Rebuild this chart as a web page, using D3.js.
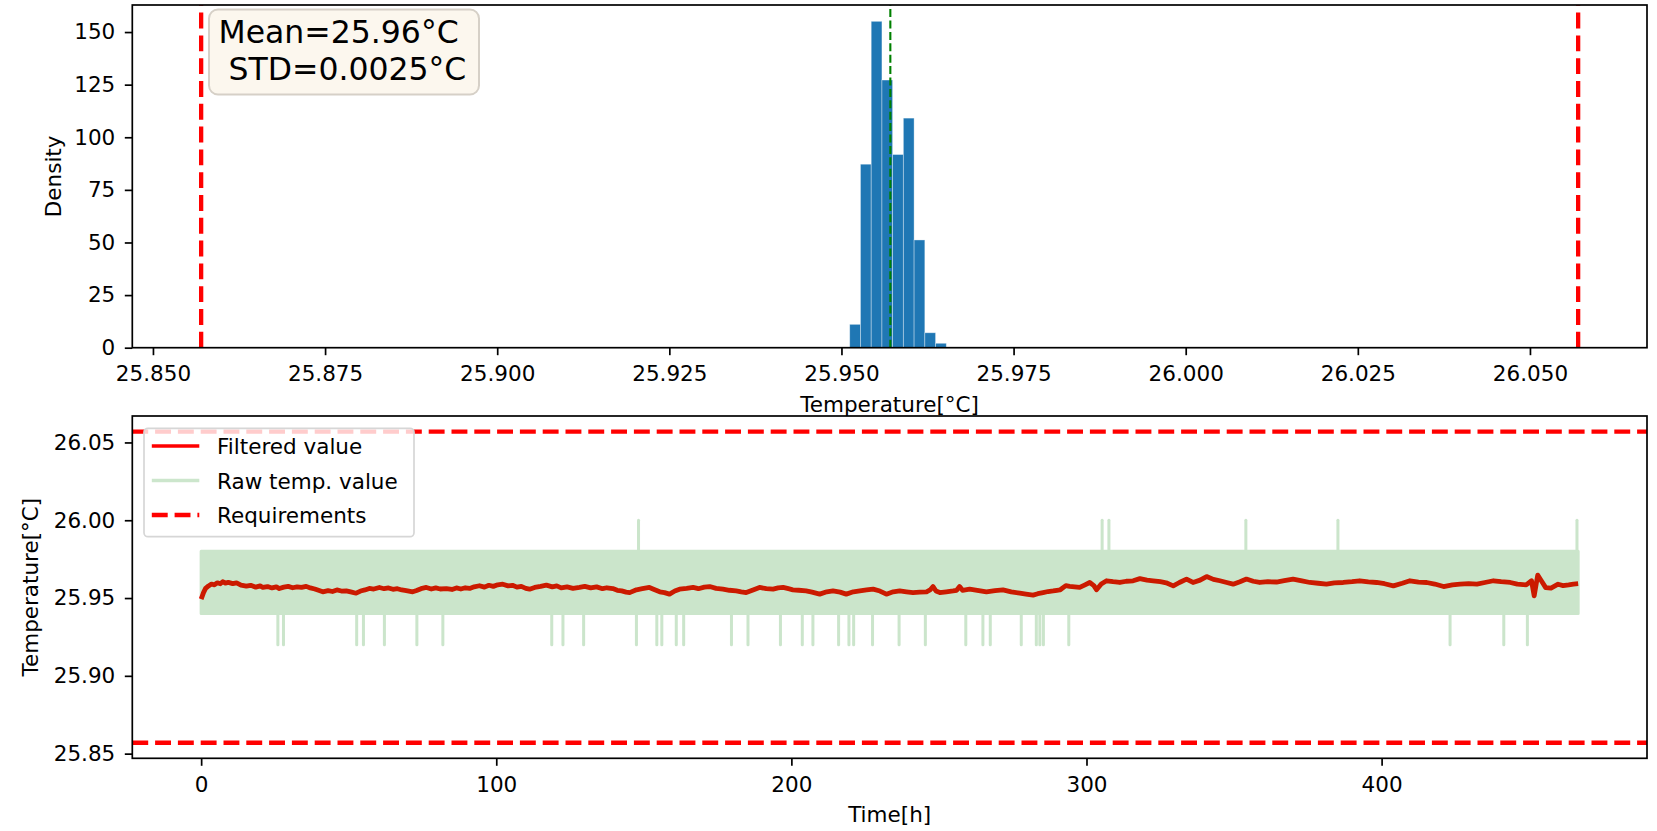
<!DOCTYPE html>
<html>
<head>
<meta charset="utf-8">
<script src="https://cdn.jsdelivr.net/npm/d3@7"></script>
<style>
  html, body { margin: 0; padding: 0; background: #fff; }
  svg { display: block; font-family: "DejaVu Sans", sans-serif; }
</style>
</head>
<body>
<div id="chart"></div>
<script>
// ---- data ----
const histBinEdges = [25.9512, 25.95276, 25.95432, 25.95588, 25.95743, 25.95899, 25.96055, 25.96211, 25.96367, 25.96523];
const histDensity = [11.1, 87.2, 155.1, 127.2, 91.8, 109.1, 51.2, 7.1, 2.1];
const meanTemp = 25.9571;
const statLines = ["Mean=25.96°C", "\u00a0STD=0.0025°C"];
const reqLimits = [25.857, 26.057];

const histTicks = [25.850, 25.875, 25.900, 25.925, 25.950, 25.975, 26.000, 26.025, 26.050];
const densityTicks = [0, 25, 50, 75, 100, 125, 150];
const timeTicks = [0, 100, 200, 300, 400];
const tempTicks = [25.85, 25.90, 25.95, 26.00, 26.05];

const filteredTime = [
  0, 0.8, 1.5, 2.5, 3.5, 4.5, 5.5, 6.5, 7.3, 8.2, 9.2, 10.7, 12.0, 13.5, 15.3, 16.8, 18.5, 20.0, 20.9, 22.5,
  24.0, 25.5, 26.5, 28.0, 29.5, 31.0, 32.5, 34.0, 35.6, 37.0, 38.5, 40.0, 41.2, 43.0, 44.5, 46.0, 47.5, 49.2, 51.0, 52.5,
  54.0, 55.5, 57.0, 58.5, 60.4, 62.0, 63.5, 65.0, 66.5, 68.0, 69.5, 71.7, 73.0, 74.5, 76.3, 78.0, 79.5, 81.0, 83.1, 85.0,
  86.5, 88.0, 89.5, 91.0, 92.5, 94.3, 96.0, 97.5, 99.0, 100.5, 102.2, 104.0, 105.5, 107.0, 108.5, 110.0, 111.3, 113.0, 115.0, 117.0,
  119.0, 120.5, 122.0, 124.0, 126.0, 128.2, 130.0, 132.0, 134.0, 136.0, 137.5, 139.5, 141.0, 142.5, 144.0, 145.2, 147.5, 149.5, 151.9, 153.5,
  155.4, 157.0, 158.7, 160.5, 162.1, 164.5, 166.7, 168.5, 170.5, 172.3, 174.5, 176.8, 179.0, 181.3, 183.0, 184.7, 187.0, 189.2, 191.5, 193.8,
  195.5, 197.2, 199.0, 200.5, 202.5, 205.0, 207.0, 209.6, 212.0, 214.1, 216.5, 218.6, 221.0, 223.2, 225.5, 227.7, 230.0, 232.2, 234.5, 236.7,
  239.0, 241.2, 243.5, 245.8, 247.0, 248.0, 249.0, 250.3, 252.5, 254.8, 256.0, 257.0, 258.0, 260.4, 263.0, 266.1, 269.0, 271.7, 274.5, 277.4,
  279.5, 281.9, 283.5, 285.3, 287.0, 288.7, 290.0, 291.0, 293.0, 294.3, 297.7, 299.5, 301.1, 302.5, 303.4, 305.0, 306.8, 309.0, 311.3, 313.5,
  315.8, 318.1, 320.5, 322.6, 325.0, 327.0, 329.4, 331.5, 333.9, 336.1, 338.5, 340.7, 343.0, 345.2, 347.5, 349.7, 352.0, 354.2, 356.5, 358.7,
  361.5, 364.4, 367.0, 370.0, 373.0, 375.7, 378.5, 381.3, 384.0, 387.0, 390.0, 392.6, 395.5, 398.3, 401.0, 404.0, 407.0, 409.6, 412.5, 415.3,
  418.0, 421.0, 424.0, 426.6, 429.5, 432.3, 435.0, 437.9, 440.5, 443.6, 446.0, 449.0, 450.8, 451.7, 452.9, 453.8, 455.6, 457.4, 459.8, 461.5,
  463.4, 465.0, 466.6
];
const filteredTemp = [
  25.9493, 25.9535, 25.9562, 25.9578, 25.9590, 25.9585, 25.9598, 25.9592, 25.9605, 25.9596, 25.9601, 25.9593, 25.9598, 25.9583, 25.9576, 25.9582, 25.9570, 25.9578, 25.9568, 25.9574,
  25.9565, 25.9572, 25.9561, 25.9570, 25.9575, 25.9566, 25.9572, 25.9568, 25.9575, 25.9565, 25.9558, 25.9548, 25.9540, 25.9548, 25.9542, 25.9552, 25.9545, 25.9546, 25.9538, 25.9531,
  25.9545, 25.9552, 25.9562, 25.9558, 25.9568, 25.9560, 25.9565, 25.9556, 25.9560, 25.9552, 25.9548, 25.9540, 25.9548, 25.9560, 25.9568, 25.9558, 25.9565, 25.9558, 25.9561, 25.9555,
  25.9565, 25.9558, 25.9566, 25.9562, 25.9572, 25.9579, 25.9570, 25.9582, 25.9575, 25.9585, 25.9589, 25.9578, 25.9582, 25.9570, 25.9575, 25.9562, 25.9557, 25.9568, 25.9575, 25.9583,
  25.9572, 25.9578, 25.9565, 25.9572, 25.9562, 25.9568, 25.9575, 25.9565, 25.9572, 25.9560, 25.9566, 25.9561, 25.9550, 25.9546, 25.9538, 25.9535, 25.9553, 25.9560, 25.9568, 25.9555,
  25.9540, 25.9535, 25.9525, 25.9545, 25.9557, 25.9562, 25.9568, 25.9560, 25.9570, 25.9574, 25.9562, 25.9557, 25.9550, 25.9546, 25.9540, 25.9535, 25.9552, 25.9568, 25.9560, 25.9557,
  25.9565, 25.9568, 25.9560, 25.9553, 25.9550, 25.9546, 25.9538, 25.9525, 25.9540, 25.9546, 25.9538, 25.9525, 25.9540, 25.9546, 25.9552, 25.9557, 25.9545, 25.9525, 25.9540, 25.9546,
  25.9540, 25.9535, 25.9538, 25.9540, 25.9552, 25.9574, 25.9545, 25.9535, 25.9540, 25.9546, 25.9550, 25.9574, 25.9550, 25.9557, 25.9550, 25.9540, 25.9548, 25.9553, 25.9540, 25.9531,
  25.9525, 25.9519, 25.9528, 25.9535, 25.9542, 25.9546, 25.9550, 25.9552, 25.9580, 25.9575, 25.9568, 25.9585, 25.9600, 25.9580, 25.9553, 25.9590, 25.9611, 25.9605, 25.9600, 25.9608,
  25.9611, 25.9625, 25.9615, 25.9611, 25.9605, 25.9598, 25.9578, 25.9600, 25.9622, 25.9600, 25.9615, 25.9638, 25.9620, 25.9611, 25.9600, 25.9589, 25.9605, 25.9622, 25.9608, 25.9600,
  25.9605, 25.9603, 25.9612, 25.9622, 25.9610, 25.9600, 25.9595, 25.9589, 25.9598, 25.9600, 25.9605, 25.9611, 25.9604, 25.9600, 25.9592, 25.9578, 25.9595, 25.9611, 25.9602, 25.9600,
  25.9590, 25.9574, 25.9585, 25.9589, 25.9592, 25.9589, 25.9600, 25.9611, 25.9605, 25.9600, 25.9589, 25.9585, 25.9611, 25.9514, 25.9647, 25.9621, 25.9567, 25.9564, 25.9589, 25.9580,
  25.9585, 25.9590, 25.9593
];

// raw sensor value: toggles between two quantised levels, with rare single-step excursions
const rawLevels = [25.94, 25.98];
const rawSpan = [0, 466.6];
const rawSpikeUpLevel = 26.00;
const rawSpikeUp = [148.2, 305.3, 307.6, 354.0, 385.2, 466.2];
const rawSpikeDownLevel = 25.92;
const rawSpikeDown = [26.0, 27.9, 52.7, 55.0, 62.1, 73.1, 81.9, 118.8, 122.6, 129.6, 147.5, 154.4, 156.1, 161.0, 163.5,
  179.7, 185.3, 196.3, 203.7, 207.3, 216.0, 219.5, 221.1, 227.5, 236.5, 245.4, 259.1, 264.9, 267.4, 277.9,
  283.0, 284.2, 285.4, 294.0, 423.2, 441.4, 449.4];

const legendLabels = ["Filtered value", "Raw temp. value", "Requirements"];

// ---- layout ----
const width = 1657, height = 831;
const fontSize = 21.5;
const pTop = {left: 132.3, right: 1647, top: 5, bottom: 347.7};
const pBot = {left: 132.3, right: 1647, top: 416, bottom: 758.3};

const svg = d3.select("#chart").append("svg")
  .attr("width", width).attr("height", height);

const tempDomain = [reqLimits[0] - 0.05 * (reqLimits[1] - reqLimits[0]), reqLimits[1] + 0.05 * (reqLimits[1] - reqLimits[0])];

const styleAxis = g => {
  g.select(".domain").remove();
  g.attr("font-family", "DejaVu Sans").attr("font-size", fontSize);
  g.selectAll(".tick line").attr("stroke", "#000").attr("stroke-width", 1.7);
  g.selectAll(".tick text").attr("fill", "#000");
};

const reqDash = "15.9,6.9";

// ===== TOP: histogram =====
const xHist = d3.scaleLinear().domain(tempDomain).range([pTop.left, pTop.right]);
const yHist = d3.scaleLinear().domain([0, d3.max(histDensity) * 1.05]).range([pTop.bottom, pTop.top]);

const gTop = svg.append("g");
gTop.selectAll("rect.bar").data(histDensity).join("rect")
  .attr("class", "bar")
  .attr("x", (d, i) => xHist(histBinEdges[i]))
  .attr("width", (d, i) => xHist(histBinEdges[i + 1]) - xHist(histBinEdges[i]))
  .attr("y", d => yHist(d))
  .attr("height", d => yHist(0) - yHist(d))
  .attr("fill", "#1f77b4")
  .attr("stroke", "#ffffff").attr("stroke-opacity", 0.45).attr("stroke-width", 0.8);

gTop.selectAll("line.req").data(reqLimits).join("line")
  .attr("class", "req")
  .attr("x1", d => xHist(d)).attr("x2", d => xHist(d))
  .attr("y1", pTop.bottom).attr("y2", pTop.top)
  .attr("stroke", "#ff0000").attr("stroke-width", 4.3).attr("stroke-dasharray", reqDash);

gTop.append("line")
  .attr("x1", xHist(meanTemp)).attr("x2", xHist(meanTemp))
  .attr("y1", pTop.bottom).attr("y2", pTop.top)
  .attr("stroke", "#008000").attr("stroke-width", 2.1).attr("stroke-dasharray", "8,3.4");

gTop.append("g").attr("transform", `translate(0,${pTop.bottom})`)
  .call(d3.axisBottom(xHist).tickValues(histTicks).tickFormat(d3.format(".3f")).tickSize(7.5).tickPadding(11))
  .call(styleAxis);
gTop.append("g").attr("transform", `translate(${pTop.left},0)`)
  .call(d3.axisLeft(yHist).tickValues(densityTicks).tickFormat(d3.format("d")).tickSize(7.5).tickPadding(9.5))
  .call(styleAxis);

gTop.append("rect")
  .attr("x", pTop.left).attr("y", pTop.top)
  .attr("width", pTop.right - pTop.left).attr("height", pTop.bottom - pTop.top)
  .attr("fill", "none").attr("stroke", "#000").attr("stroke-width", 1.7);

// stats box
gTop.append("rect")
  .attr("x", 209).attr("y", 9.5).attr("width", 270).attr("height", 85).attr("rx", 9)
  .attr("fill", "#fcf7ee").attr("stroke", "#d6d0c7").attr("stroke-width", 2);
gTop.selectAll("text.stat").data(statLines).join("text")
  .attr("class", "stat")
  .attr("x", 218.5).attr("y", (d, i) => 43 + i * 36.5)
  .attr("font-size", 31.5).attr("fill", "#000")
  .text(d => d);

gTop.append("text")
  .attr("transform", `translate(61.4,${(pTop.top + pTop.bottom) / 2}) rotate(-90)`)
  .attr("text-anchor", "middle").attr("font-size", fontSize).attr("fill", "#000")
  .text("Density");
gTop.append("text")
  .attr("x", (pTop.left + pTop.right) / 2).attr("y", 412)
  .attr("text-anchor", "middle").attr("font-size", fontSize).attr("fill", "#000")
  .text("Temperature[°C]");

// ===== BOTTOM: time series =====
const tPad = 0.05 * (rawSpan[1] - rawSpan[0]);
const xTime = d3.scaleLinear().domain([rawSpan[0] - tPad, rawSpan[1] + tPad]).range([pBot.left, pBot.right]);
const yTemp = d3.scaleLinear().domain(tempDomain).range([pBot.bottom, pBot.top]);

const gBot = svg.append("g");

const line = d3.line()
  .x(i => xTime(filteredTime[i]))
  .y(i => yTemp(filteredTemp[i]));
gBot.append("path")
  .attr("d", line(d3.range(filteredTime.length)))
  .attr("fill", "none").attr("stroke", "#ff0000").attr("stroke-width", 4.8)
  .attr("stroke-linejoin", "round");

const gRaw = gBot.append("g").attr("opacity", 0.2);
gRaw.append("rect")
  .attr("x", xTime(rawSpan[0])).attr("width", xTime(rawSpan[1]) - xTime(rawSpan[0]))
  .attr("y", yTemp(rawLevels[1])).attr("height", yTemp(rawLevels[0]) - yTemp(rawLevels[1]))
  .attr("fill", "#008000").attr("stroke", "#008000").attr("stroke-width", 3).attr("stroke-linejoin", "round");
gRaw.selectAll("line.up").data(rawSpikeUp).join("line")
  .attr("class", "up")
  .attr("x1", d => xTime(d)).attr("x2", d => xTime(d))
  .attr("y1", yTemp(rawLevels[1])).attr("y2", yTemp(rawSpikeUpLevel))
  .attr("stroke", "#008000").attr("stroke-width", 3).attr("stroke-linecap", "round");
gRaw.selectAll("line.down").data(rawSpikeDown).join("line")
  .attr("class", "down")
  .attr("x1", d => xTime(d)).attr("x2", d => xTime(d))
  .attr("y1", yTemp(rawLevels[0])).attr("y2", yTemp(rawSpikeDownLevel))
  .attr("stroke", "#008000").attr("stroke-width", 3).attr("stroke-linecap", "round");

gBot.selectAll("line.req").data(reqLimits).join("line")
  .attr("class", "req")
  .attr("x1", pBot.left).attr("x2", pBot.right)
  .attr("y1", d => yTemp(d)).attr("y2", d => yTemp(d))
  .attr("stroke", "#ff0000").attr("stroke-width", 4.3).attr("stroke-dasharray", reqDash);

gBot.append("g").attr("transform", `translate(0,${pBot.bottom})`)
  .call(d3.axisBottom(xTime).tickValues(timeTicks).tickFormat(d3.format("d")).tickSize(7.5).tickPadding(11))
  .call(styleAxis);
gBot.append("g").attr("transform", `translate(${pBot.left},0)`)
  .call(d3.axisLeft(yTemp).tickValues(tempTicks).tickFormat(d3.format(".2f")).tickSize(7.5).tickPadding(9.5))
  .call(styleAxis);

gBot.append("rect")
  .attr("x", pBot.left).attr("y", pBot.top)
  .attr("width", pBot.right - pBot.left).attr("height", pBot.bottom - pBot.top)
  .attr("fill", "none").attr("stroke", "#000").attr("stroke-width", 1.7);

gBot.append("text")
  .attr("transform", `translate(37.5,${(pBot.top + pBot.bottom) / 2}) rotate(-90)`)
  .attr("text-anchor", "middle").attr("font-size", fontSize).attr("fill", "#000")
  .text("Temperature[°C]");
gBot.append("text")
  .attr("x", (pBot.left + pBot.right) / 2).attr("y", 822)
  .attr("text-anchor", "middle").attr("font-size", fontSize).attr("fill", "#000")
  .text("Time[h]");

// legend
const legend = gBot.append("g");
legend.append("rect")
  .attr("x", 144).attr("y", 428.3).attr("width", 270).attr("height", 108.4).attr("rx", 4)
  .attr("fill", "#fff").attr("fill-opacity", 0.8)
  .attr("stroke", "#d6d6d6").attr("stroke-width", 1.7);
const handleStyles = [
  {stroke: "#ff0000", opacity: 1, width: 3.6, dash: null},
  {stroke: "#008000", opacity: 0.2, width: 3.6, dash: null},
  {stroke: "#ff0000", opacity: 1, width: 4.3, dash: reqDash}
];
legendLabels.forEach((label, i) => {
  const cy = 446 + i * 34.5;
  const s = handleStyles[i];
  legend.append("line")
    .attr("x1", 151.8).attr("x2", 199.3).attr("y1", cy).attr("y2", cy)
    .attr("stroke", s.stroke).attr("stroke-opacity", s.opacity)
    .attr("stroke-width", s.width).attr("stroke-dasharray", s.dash);
  legend.append("text")
    .attr("x", 217).attr("y", cy + 8)
    .attr("font-size", fontSize).attr("fill", "#000")
    .text(label);
});
</script>
</body>
</html>
